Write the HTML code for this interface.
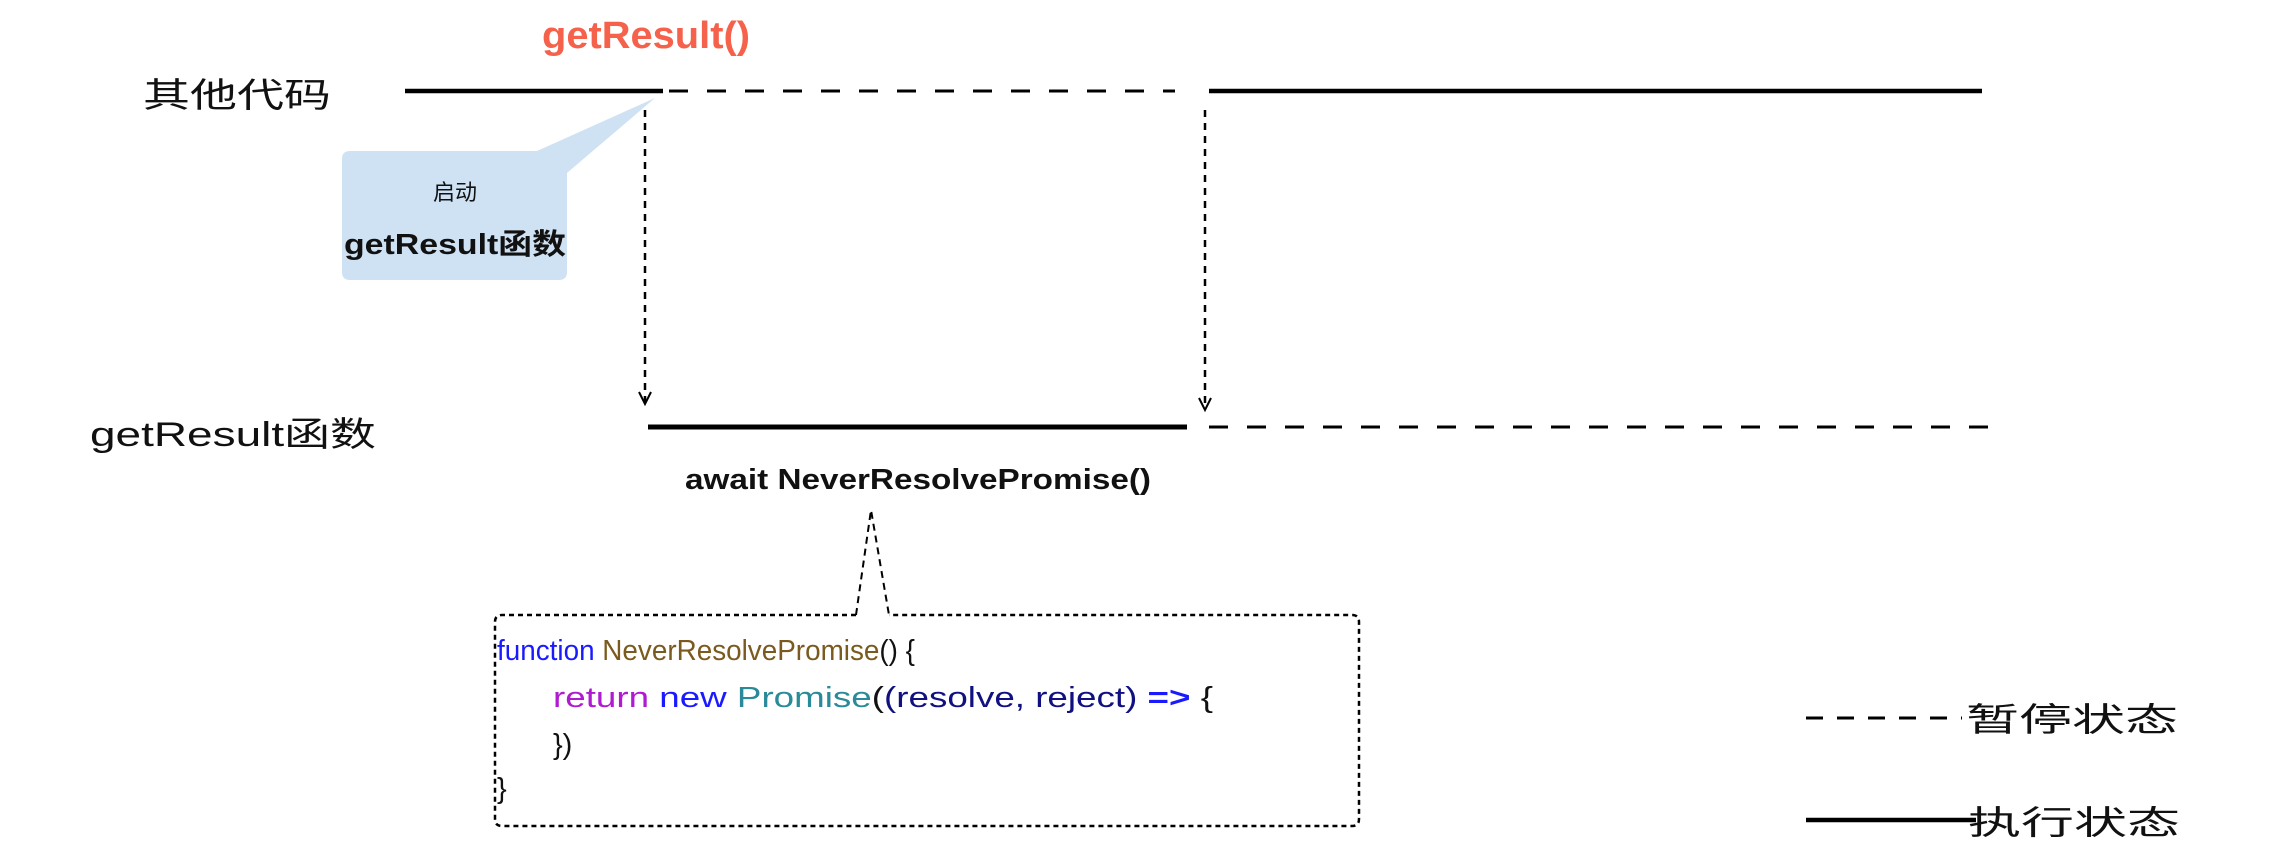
<!DOCTYPE html>
<html><head><meta charset="utf-8"><style>
html,body{margin:0;padding:0;background:#fff;}
svg{display:block;}
text{font-family:"Liberation Sans","Noto Sans CJK SC",sans-serif;}
</style></head><body>
<svg width="2284" height="861" viewBox="0 0 2284 861" xmlns="http://www.w3.org/2000/svg">
<!-- top row -->
<text x="542" y="48" font-size="38" font-weight="bold" fill="#f5614a" textLength="208" lengthAdjust="spacingAndGlyphs">getResult()</text>
<text x="143" y="107" font-size="34" fill="#111" textLength="188" lengthAdjust="spacingAndGlyphs">其他代码</text>
<line x1="405" y1="91" x2="663" y2="91" stroke="#000" stroke-width="4.5"/>
<line x1="669" y1="91" x2="1175" y2="91" stroke="#000" stroke-width="3" stroke-dasharray="19,19"/>
<line x1="1209" y1="91" x2="1982" y2="91" stroke="#000" stroke-width="4.5"/>
<!-- callout -->
<path d="M350,151 L537,151 L655,98 L567,173 L567,272 Q567,280 559,280 L350,280 Q342,280 342,272 L342,159 Q342,151 350,151 Z" fill="#cfe2f3"/>
<text x="455" y="200" font-size="22" fill="#111" text-anchor="middle">启动</text>
<text x="455" y="254" font-size="29" font-weight="bold" fill="#111" text-anchor="middle" textLength="222" lengthAdjust="spacingAndGlyphs">getResult函数</text>
<!-- vertical arrows -->
<line x1="645" y1="110" x2="645" y2="402" stroke="#000" stroke-width="2.5" stroke-dasharray="7,6"/>
<path d="M639,392 L645,404 L651,392" fill="none" stroke="#000" stroke-width="2"/>
<line x1="1205" y1="110" x2="1205" y2="408" stroke="#000" stroke-width="2.5" stroke-dasharray="7,6"/>
<path d="M1199,398 L1205,410 L1211,398" fill="none" stroke="#000" stroke-width="2"/>
<!-- second row -->
<text x="90" y="446" font-size="34" fill="#111" textLength="286" lengthAdjust="spacingAndGlyphs">getResult函数</text>
<line x1="648" y1="427" x2="1187" y2="427" stroke="#000" stroke-width="5"/>
<line x1="1209" y1="427" x2="1998" y2="427" stroke="#000" stroke-width="3" stroke-dasharray="19,19"/>
<text x="685" y="489" font-size="29" font-weight="bold" fill="#111" textLength="466" lengthAdjust="spacingAndGlyphs">await NeverResolvePromise()</text>
<!-- code box -->
<path d="M856,615 L871,510 L889,615" fill="none" stroke="#000" stroke-width="2" stroke-dasharray="7,5"/>
<path d="M856,615 L502,615 Q495,615 495,622 L495,819 Q495,826 502,826 L1352,826 Q1359,826 1359,819 L1359,622 Q1359,615 1352,615 L889,615" fill="none" stroke="#000" stroke-width="2.5" stroke-dasharray="5,4"/>
<text x="497" y="660" font-size="29" textLength="418" lengthAdjust="spacingAndGlyphs"><tspan fill="#1a1aff">function </tspan><tspan fill="#7a5a1e">NeverResolvePromise</tspan><tspan fill="#111">() {</tspan></text>
<text x="553" y="707" font-size="29" textLength="660" lengthAdjust="spacingAndGlyphs"><tspan fill="#b01ad0">return </tspan><tspan fill="#1a1aff">new </tspan><tspan fill="#2a8a9a">Promise</tspan><tspan fill="#111">(</tspan><tspan fill="#101080">(resolve, reject) </tspan><tspan fill="#1a1aff" font-weight="bold">=&gt; </tspan><tspan fill="#111">{</tspan></text>
<text x="553" y="754" font-size="29" fill="#111">})</text>
<text x="497" y="798" font-size="29" fill="#111">}</text>
<!-- legend -->
<line x1="1806" y1="718" x2="1962" y2="718" stroke="#000" stroke-width="3" stroke-dasharray="17,14"/>
<text x="1966" y="731" font-size="33" fill="#111" textLength="212" lengthAdjust="spacingAndGlyphs">暂停状态</text>
<line x1="1806" y1="820" x2="1976" y2="820" stroke="#000" stroke-width="4.5"/>
<text x="1968" y="834" font-size="33" fill="#111" textLength="212" lengthAdjust="spacingAndGlyphs">执行状态</text>
</svg>
</body></html>
